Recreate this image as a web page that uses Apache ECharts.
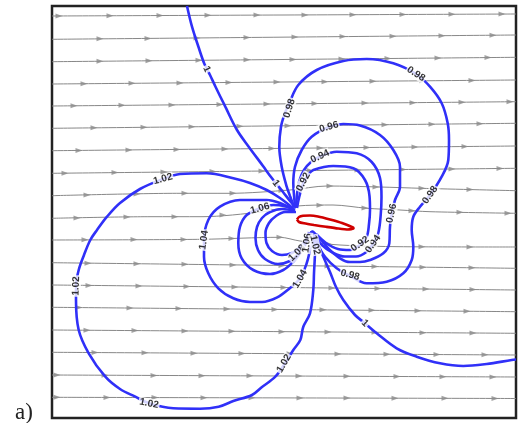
<!DOCTYPE html>
<html><head><meta charset="utf-8">
<script src="https://cdn.jsdelivr.net/npm/echarts@6/dist/echarts.min.js"></script>
<style>html,body{margin:0;padding:0;background:#fff;}#c{width:518px;height:423px;}</style>
</head><body><div id="c"></div>
<script>
// Plot domain (arbitrary field units, y upward)
const xRange = [0, 464];
const yRange = [0, 412];

// Streamlines: nodes [x,y]
const streamNodes = [
  [[0,402],[464,404]],
  [[0,378.7],[464,383]],
  [[0,356.3],[464,360.7]],
  [[0,334],[464,338]],
  [[0,312],[464,316.3]],
  [[0,289.7],[464,294.7]],
  [[0,267.3],[464,272]],
  [[0,244.7],[464,249.7]],
  [[0,222.3],[128,224.7],[178,224.7],[238,228],[275,232],[328,231],[369,229.7],[464,227.3]],
  [[0,199.7],[98,201.3],[150,201.3],[211,206.3],[245,212],[281,213],[315,209.7],[348,208],[378,206.3],[464,204.7]],
  [[0,178],[150,178.7],[228,180.7],[248,177],[288,173],[348,171.3],[464,171]],
  [[0,155.3],[464,149.7]],
  [[0,133],[464,128]],
  [[0,110.7],[464,106.3]],
  [[0,88],[464,84.7]],
  [[0,65.7],[464,63]],
  [[0,43],[464,41]],
  [[0,20.7],[464,19.5]]
];
// Arrow-head x positions along each streamline
const streamArrows = [
  [7,58,108,156,205,253,301,351,400,450],
  [48,96,145,195,243,291,341,390,441],
  [48,97,147,195,241,290,336,386,436],
  [32,80,128,177,225,273,321,371,420],
  [22,70,120,168,215,263,313,361,410,458],
  [42,92,140,188,236,285,333,380,428],
  [27,77,125,173,220,268,315,363,413],
  [13,63,112,161,210,258,306,351,400,448],
  [35,85,133,181,230,278,324,370,418],
  [25,75,123,171,220,268,313,360,408,456],
  [33,82,132,180,228,276,323,370,418],
  [36,85,133,181,230,276,323,371,420],
  [37,87,135,183,232,280,326,374,421],
  [27,78,127,175,223,271,320,366,415],
  [35,83,133,180,230,276,323,371,421],
  [43,93,142,190,238,286,335,385,433],
  [5,53,102,150,198,247,295,345,391,441],
  [5,55,103,152,200,248,295,343,393,443]
];

// Contour levels (pressure-like field) as polylines
const contour1Upper = [[135,412],[140,391.3],[146.5,371],[152,355],[155,349],[158,343],[163.5,331.3],[173.3,311.3],[185,288],[196.7,271.3],[211,252],[219,241],[231,226],[238,217],[244,210]];
const contour1Lower = [[259,187],[265,176],[271,162],[278,146],[284,131],[291.3,118],[303,103],[313,94.7],[324.7,84.7],[344.7,69.7],[364.7,61.3],[388,54.7],[411.3,52],[434.7,54],[459.7,58],[464,58.5]];
const contour098 = [[242,211],[238,222],[234.7,231.3],[229.7,251.3],[227.3,271.3],[229,291.3],[233,305],[237.3,315],[246.3,333],[264.7,348],[291.3,357],[314.7,359],[341.3,354.7],[364,344],[378,331.3],[389.7,314.7],[395.7,294.7],[397,278],[396.3,258],[389.7,241.3],[378,223],[368,211.3],[361.3,201.3],[359.7,188],[361.3,171.3],[359.7,158],[351.3,144.7],[334.7,136.3],[314.7,134.7],[298,142],[284.7,149.7],[273,161.3],[264.7,174.7],[259,187]];
const contour096 = [[243,211],[242,223],[241.3,234.7],[243,251.3],[249.7,268],[259.7,281.3],[277,291],[291.3,294],[308,292.5],[328,283],[341.3,268],[348,251.3],[348,231.3],[343,218],[339.7,204.7],[338,191.3],[337.3,174.7],[331.3,164.7],[318,158],[308,156],[298,156],[288,159.7],[276.3,169.7],[268,179.7],[260,187]];
const contour094 = [[244,211],[245,223],[247,236],[252,248],[259,256],[268,261.5],[284.7,266.3],[304.7,264.7],[319.7,256],[328,240],[329.5,221.3],[328.7,203],[326.3,185],[321.3,174.7],[314.7,166.3],[304,161.5],[293,161.5],[281.3,165],[270,173],[261,186]];
const contour092 = [[245,210],[247,220],[251.3,235],[256,243],[261.3,248],[281.3,252],[301.3,249.7],[313,238],[317.5,222],[318,208],[317,194],[314.7,181.3],[308,173],[298,168],[286,169],[274,175],[264,184]];
const contour102 = [[242,209],[228,220],[214.7,228],[198,235],[181.3,239.7],[154.7,244.7],[128,244],[111,239],[88,229],[68,215],[55,201.3],[45,188],[38.3,178],[32,163],[26.7,148],[24,132],[24,118],[26.7,88],[36.7,64.7],[53.3,41.3],[68,29],[83.3,21.3],[97,14.7],[121.3,9.7],[148,9.3],[166.7,11.3],[181.3,17],[200,23],[210,31],[223.3,41.3],[233,54.7],[241.3,68],[248.3,78],[251.3,91.3],[258,104.7],[261.3,128],[262,144.7],[263,168],[260,185]];
const contour104 = [[242,208],[228,215],[214.7,218],[188,218],[168,211.3],[156.3,198],[152,178],[152,161.3],[156.3,144.7],[166.3,129.7],[181.3,119.7],[198,116],[210,116],[224.7,120.3],[238,130],[248,139.7],[254.7,154.7],[258,168],[259.7,178],[259,186]];
const contour106 = [[243,208],[232,212],[221.3,213],[208,209.7],[194.7,203],[188,191.3],[186.3,174.7],[189.7,159.7],[201.3,148],[218,144],[231.3,148],[241,156],[249,166],[254,175],[257,186]];
const contour108 = [[243,207],[230,209],[218,206],[210,200],[205,191],[203.5,180],[206,168],[213,159],[226,154],[238,157],[246,164],[252,174],[257,185]];
const contour110 = [[244,206],[233,206],[224,202],[217,195],[213.5,185],[214.5,175],[220,167],[230,163],[240,165],[248,171],[254,178],[257.5,184]];

// Airfoil outline
const airfoil = [[245,198.5],[247,201],[251,202.2],[258,202.5],[266,201.5],[278,198.5],[290,195],[301,190.5],[301.5,189.5],[296,188.5],[286,189.5],[274,191.2],[262,193],[252,194.7],[247,196],[245,198.5]];

// Contour labels: [x, y, text, angle]
const contourLabels = [
  [154.7,349,'1',-65],[224,234.7,'1',-52],[313,94.7,'1',-44],
  [237.3,309.7,'0.98',72],[364,344,'0.98',-33],[378,223,'0.98',55],[298,143,'0.98',-15],
  [277,291,'0.96',15],[339.7,204.7,'0.96',78],
  [268,261.5,'0.94',25],[321,174,'0.94',55],
  [251.3,236,'0.92',62],[308,174,'0.92',35],
  [111,239,'1.02',15],[24,132,'1.02',88],[97,14.5,'1.02',-12],[232,54.5,'1.02',60],
  [152,178,'1.04',82],[248,139,'1.04',60],
  [208,209.5,'1.06',15],[245,165,'1.08',45],[255,175,'1.06',82],[263,173,'1.02',-78]
];

function yAt(nodes, x){
  for(let i=0;i<nodes.length-1;i++){
    const a=nodes[i], b=nodes[i+1];
    if(x>=a[0] && x<=b[0]){ const t=(x-a[0])/(b[0]-a[0]); return a[1]+t*(b[1]-a[1]); }
  }
  return nodes[nodes.length-1][1];
}

const series = [];
streamNodes.forEach((nodes,i)=>{
  series.push({type:'line', data:nodes, showSymbol:false, symbol:'none', smooth:0.3, z:1,
    lineStyle:{color:'#888888', width:1}, silent:true});
  series.push({type:'scatter', z:1, silent:true,
    data: streamArrows[i].map(x=>[x, yAt(nodes,x)]),
    symbol:'triangle', symbolSize:[5,7], symbolRotate:-90,
    itemStyle:{color:'#8c8c8c'}});
});
[contour1Upper, contour1Lower, contour098, contour096, contour094, contour092,
 contour102, contour104, contour106, contour108, contour110].forEach(c=>{
  series.push({type:'line', data:c, showSymbol:false, symbol:'none', smooth:0.35, z:2, silent:true,
    lineStyle:{color:'#3030f8', width:2.6}});
});
series.push({type:'line', data:airfoil, showSymbol:false, symbol:'none', smooth:0.2, z:3, silent:true,
  lineStyle:{color:'#d00000', width:2.6}});
series.push({type:'scatter', z:5, silent:true, symbolSize:1, itemStyle:{color:'rgba(0,0,0,0)'},
  data: contourLabels.map(l=>({value:[l[0],l[1]], name:l[2],
    label:{rotate:l[3]}})),
  label:{show:true, position:'inside', formatter:p=>p.name, fontSize:10, fontWeight:'bold',
    fontFamily:'Liberation Sans, Arial, sans-serif', color:'#000', backgroundColor:'#fff', padding:[0,1]}
});

const chart = echarts.init(document.getElementById('c'), null, {renderer:'canvas'});
chart.setOption({
  animation:false,
  backgroundColor:'#fff',
  grid:{left:52, top:6, width:464, height:412, show:true, borderColor:'#222', borderWidth:2.5, backgroundColor:'#fff'},
  xAxis:{type:'value', min:xRange[0], max:xRange[1], show:false},
  yAxis:{type:'value', min:yRange[0], max:yRange[1], show:false},
  graphic:[{type:'text', left:15, top:401, style:{text:'a)', font:'23px "Liberation Serif", serif', fill:'#222'}}],
  series: series
});
</script></body></html>
